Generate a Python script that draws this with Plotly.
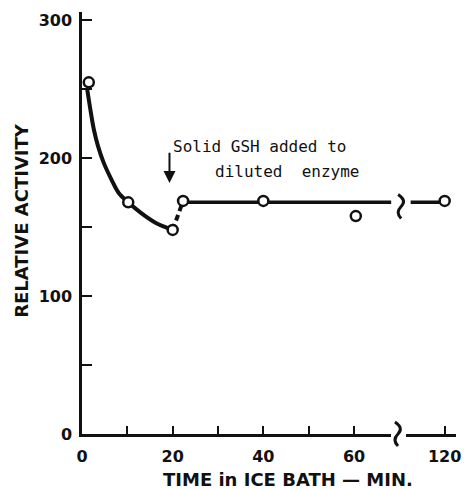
import plotly.graph_objects as go

# ---- data ----
time_min = [1.5, 10.2, 20, 22.3, 40, 60.4, 120]
activity = [255, 168, 148, 169, 169, 158, 169]

# smooth decay curve
curve_t = [1.15, 1.96, 2.6, 3.55, 4.8, 6.5, 8.1, 10.2, 13.0, 16.3, 20.0]
curve_y = [250, 233, 221, 208.6, 196.6, 184.5, 174.8, 168, 160.3, 153, 148]

# dashed jump after GSH addition
jump_t = [20.0, 22.3]
jump_y = [148, 169]

# level line after GSH addition (two pieces either side of the axis break)
level1_t = [22.3, 68.2]
level1_y = [168, 168]
level2_t = [112.5, 120]
level2_y = [168, 168]

x_tick_vals_min = [0, 20, 40, 60, 120]
x_tick_text = ["0", "20", "40", "60", "120"]
x_minor_min = [10, 30, 50]
y_tick_vals = [0, 100, 200, 300]

BREAK_MIN = 70
SHIFT = 40  # minutes removed by the axis break (120 drawn at 80)
X_RANGE = [0, 82.5]
Y_RANGE = [0, 306]


def to_axis(t):
    return t if t <= BREAK_MIN else t - SHIFT


def conv(lst):
    return [to_axis(t) for t in lst]


BLACK = "#111111"
FONT = "DejaVu Sans"

W, H = 470, 489
ml, mr, mt, mb = 82, 9, 12, 55
pw, ph = W - ml - mr, H - mt - mb


def px_x(px):
    return (px - ml) / pw


def px_y(py):
    return 1 - (py - mt) / ph


def paper_x(v):
    return (v - X_RANGE[0]) / (X_RANGE[1] - X_RANGE[0])


def paper_y(v):
    return (v - Y_RANGE[0]) / (Y_RANGE[1] - Y_RANGE[0])


fig = go.Figure()

fig.add_trace(go.Scatter(x=curve_t, y=curve_y, mode="lines",
                         line=dict(color=BLACK, width=4, shape="spline", smoothing=1.0),
                         hoverinfo="skip"))
fig.add_trace(go.Scatter(x=conv(jump_t), y=jump_y, mode="lines",
                         line=dict(color=BLACK, width=4, dash="6px,4px"),
                         hoverinfo="skip"))
fig.add_trace(go.Scatter(x=conv(level1_t), y=level1_y, mode="lines",
                         line=dict(color=BLACK, width=3.5), hoverinfo="skip"))
fig.add_trace(go.Scatter(x=conv(level2_t), y=level2_y, mode="lines",
                         line=dict(color=BLACK, width=3.5), hoverinfo="skip"))
fig.add_trace(go.Scatter(x=conv(time_min), y=activity, mode="markers",
                         marker=dict(symbol="circle", size=10, color="white",
                                     line=dict(color=BLACK, width=2.5))))

# axis break: white gap + squiggle on the x axis, squiggle on the data line
squiggle = "M -3,12 Q 6,6 0,0 Q -6,-6 0,-12"
bx = paper_x(BREAK_MIN - 0.3)
fig.add_shape(type="rect", xref="paper", yref="paper", xsizemode="pixel", ysizemode="pixel",
              xanchor=bx, yanchor=0, x0=-7, x1=8, y0=-6, y1=6,
              fillcolor="white", line=dict(width=0), layer="above")
fig.add_shape(type="path", xref="paper", yref="paper", xsizemode="pixel", ysizemode="pixel",
              xanchor=bx, yanchor=0, path=squiggle,
              line=dict(color=BLACK, width=3), layer="above")
fig.add_shape(type="path", xref="paper", yref="paper", xsizemode="pixel", ysizemode="pixel",
              xanchor=paper_x(BREAK_MIN + 0.4), yanchor=paper_y(165), path=squiggle,
              line=dict(color=BLACK, width=3), layer="above")

# arrow and note
fig.add_annotation(x=19.3, y=182, ax=19.3, ay=205, xref="x", yref="y",
                   axref="x", ayref="y", text="", showarrow=True,
                   arrowhead=2, arrowsize=1.2, arrowwidth=2, arrowcolor=BLACK)
fig.add_annotation(x=19.6, y=208.5, xref="x", yref="y", text="Solid GSH added to",
                   xanchor="left", showarrow=False,
                   font=dict(family="DejaVu Sans Mono", size=16, color=BLACK))
fig.add_annotation(x=29.0, y=190, xref="x", yref="y", text="diluted  enzyme",
                   xanchor="left", showarrow=False,
                   font=dict(family="DejaVu Sans Mono", size=16, color=BLACK))

# axis titles
fig.add_annotation(x=px_x(291), y=px_y(480), xref="paper", yref="paper",
                   xanchor="center", yanchor="middle", text="TIME in ICE BATH — MIN.",
                   showarrow=False, font=dict(family=FONT, size=18, color=BLACK, weight="bold"))
fig.add_annotation(x=px_x(20), y=px_y(220), xref="paper", yref="paper",
                   xanchor="center", yanchor="middle", text="RELATIVE ACTIVITY",
                   textangle=-90, showarrow=False,
                   font=dict(family=FONT, size=18, color=BLACK, weight="bold"))

fig.update_layout(
    width=W, height=H, margin=dict(l=ml, r=mr, t=mt, b=mb),
    paper_bgcolor="white", plot_bgcolor="white", showlegend=False,
    xaxis=dict(range=X_RANGE, showgrid=False, zeroline=False, showline=True,
               linecolor=BLACK, linewidth=2.5, ticks="inside", ticklen=8, tickwidth=2,
               tickcolor=BLACK, tickvals=conv(x_tick_vals_min), ticktext=x_tick_text,
               ticklabelstandoff=6,
               tickfont=dict(family=FONT, size=16, color=BLACK, weight="bold"),
               minor=dict(tickvals=x_minor_min, ticks="inside", ticklen=8, tickwidth=2,
                          tickcolor=BLACK, showgrid=False)),
    yaxis=dict(range=Y_RANGE, showgrid=False, zeroline=False, showline=True,
               linecolor=BLACK, linewidth=2.5, ticks="inside", ticklen=10, tickwidth=2,
               tickcolor=BLACK, tickvals=y_tick_vals, ticklabelstandoff=4,
               tickfont=dict(family=FONT, size=16, color=BLACK, weight="bold"),
               minor=dict(dtick=50, tick0=0, ticks="inside", ticklen=10, tickwidth=2,
                          tickcolor=BLACK, showgrid=False)),
)

fig.write_html("out.html")
